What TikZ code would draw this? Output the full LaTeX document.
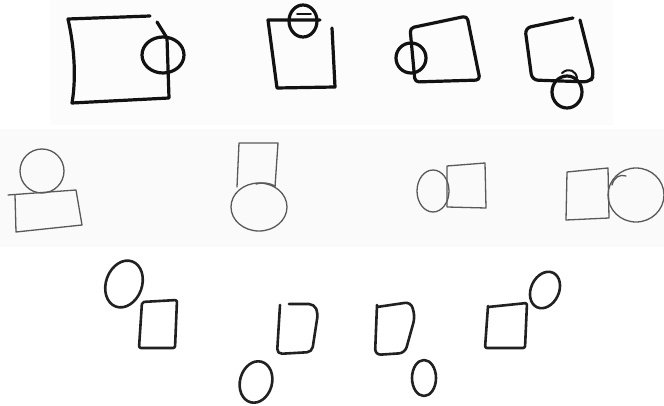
\documentclass[tikz,border=0pt]{standalone}
\begin{document}
\begin{tikzpicture}[x=1pt,y=-1pt,
  rowone/.style={draw=black!93,line width=3.2pt,line cap=round,line join=round},
  rowtwo/.style={draw=black!65,line width=1.3pt,line cap=round,line join=round},
  rowthree/.style={draw=black!87,line width=2.6pt,line cap=round,line join=round}]
\useasboundingbox (0,0) rectangle (664,406);
\fill[white] (0,0) rectangle (664,406);
\fill[black!1] (50,0) rectangle (613,125);
\fill[black!2] (0,129) rectangle (664,247);
% ---------- row 1 ----------
% A
\draw[rowone] (150,16) -- (68,19) .. controls (75,50) and (76,80) .. (72,103) -- (169,98) -- (167,38) -- (157,22);
\draw[rowone] (163,55) ellipse [x radius=21,y radius=18];
% B
\draw[rowone] (320,20) -- (268,20) -- (277,88) -- (335,87) -- (332,28);
\draw[rowone] (303,21) ellipse [x radius=14,y radius=16];
\draw[rowone,line width=1.6pt] (297,14) -- (311,14);
% C
\draw[rowone,rounded corners=4pt] (415,82) -- (410,28) -- (467,16) -- (480,80) -- cycle;
\draw[rowone] (411,58) ellipse [x radius=15,y radius=15];
% D
\draw[rowone,rounded corners=6pt] (573,18) -- (525,28) -- (532,80) -- (590,82) -- (594,75) -- (580,20);
\draw[rowone] (567,92) ellipse [x radius=15,y radius=16];
\draw[rowone,line width=2pt] (562,73) .. controls (569,67) and (576,71) .. (577,78);
% ---------- row 2 ----------
% E
\draw[rowtwo] (42,171) ellipse [x radius=22,y radius=22];
\draw[rowtwo] (8,195) -- (76,190) -- (82,225) -- (16,232) -- (15,195);
% F
\draw[rowtwo] (237,187) -- (239,143) -- (278,143) -- (275,187);
\draw[rowtwo] (259,207) ellipse [x radius=28,y radius=24];
\draw[rowtwo] (256,184) .. controls (262,182) and (270,183) .. (275,186);
% G
\draw[rowtwo] (433,191) ellipse [x radius=16,y radius=21];
\draw[rowtwo] (447,166) -- (485,163) -- (486,208) -- (447,207) -- cycle;
% H
\draw[rowtwo] (567,172) -- (608,168) -- (609,218) -- (566,220) -- cycle;
\draw[rowtwo] (636,195) ellipse [x radius=28,y radius=27];
\draw[rowtwo] (612,185) .. controls (614,177) and (620,174) .. (626,176);
% ---------- row 3 ----------
% I
\draw[rowthree,rotate around={-20:(124,284)}] (124,284) ellipse [x radius=18,y radius=24];
\draw[rowthree,rounded corners=2pt] (142,302) -- (177,300) -- (175,348) -- (139,348) -- cycle;
% J
\draw[rowthree,rounded corners=5pt] (280,305) -- (277,354) -- (312,352) -- (318,313) -- (314,304) -- (289,304);
\draw[rowthree,rotate around={-15:(256,382)}] (256,382) ellipse [x radius=16,y radius=21];
% K
\draw[rowthree,rounded corners=6pt] (377,307) -- (411,302) -- (415,317) -- (405,353) -- (375,355) -- (377,305);
\draw[rowthree] (424,378) ellipse [x radius=12,y radius=18];
% L
\draw[rowthree,rounded corners=2pt] (488,307) -- (527,303) -- (525,348) -- (485,348) -- (488,306);
\draw[rowthree,rotate around={-25:(545,290)}] (545,290) ellipse [x radius=14,y radius=19];
\end{tikzpicture}
\end{document}
